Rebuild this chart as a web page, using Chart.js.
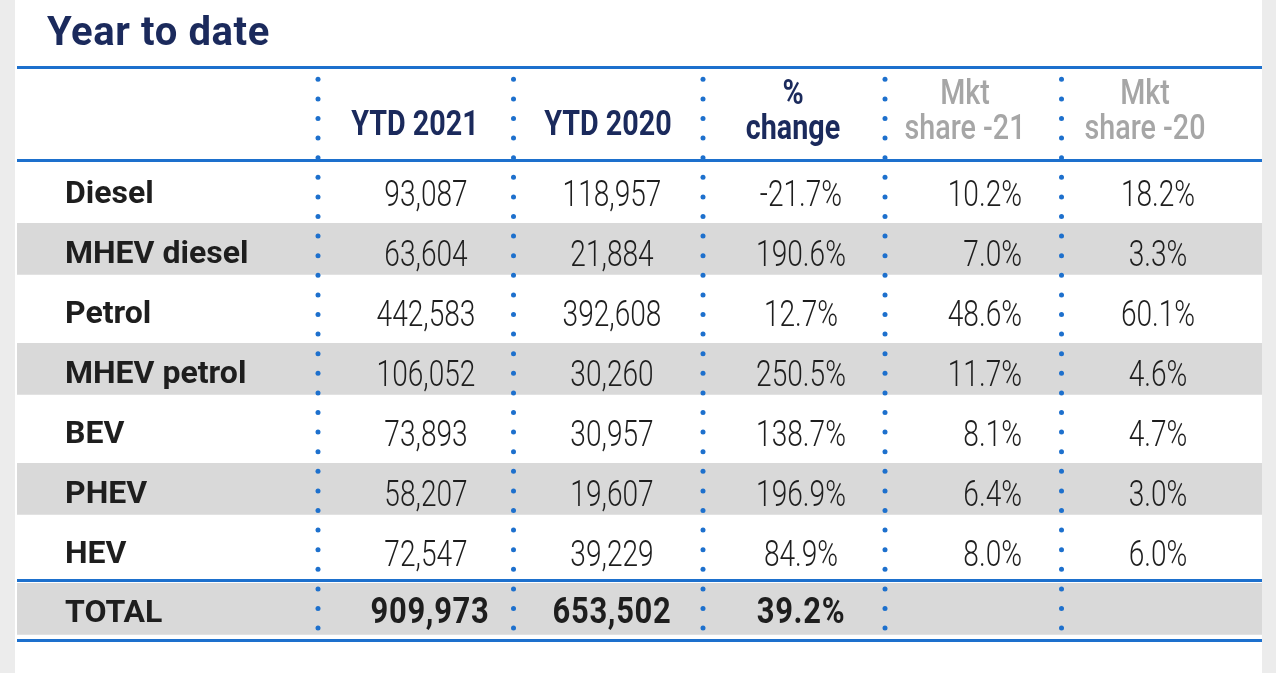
<!DOCTYPE html>
<html>
<head>
<meta charset="utf-8">
<script src="https://cdn.jsdelivr.net/npm/chart.js@4/dist/chart.umd.min.js"></script>
<style>
  html, body { margin: 0; padding: 0; background: #ececec; overflow: hidden; }
  canvas { display: block; }
</style>
</head>
<body>
<canvas id="c" width="1276" height="673" style="width:1276px;height:673px"></canvas>
<script>
// ---------------- DATA ----------------
const title = 'Year to date';
const headers = [['YTD 2021'], ['YTD 2020'], ['%', 'change'], ['Mkt', 'share -21'], ['Mkt', 'share -20']];
const categories = ['Diesel', 'MHEV diesel', 'Petrol', 'MHEV petrol', 'BEV', 'PHEV', 'HEV'];
const ytd2021 = [93087, 63604, 442583, 106052, 73893, 58207, 72547];
const ytd2020 = [118957, 21884, 392608, 30260, 30957, 19607, 39229];
const pctChange = [-21.7, 190.6, 12.7, 250.5, 138.7, 196.9, 84.9];
const share21 = [10.2, 7.0, 48.6, 11.7, 8.1, 6.4, 8.0];
const share20 = [18.2, 3.3, 60.1, 4.6, 4.7, 3.0, 6.0];
const totalLabel = 'TOTAL';
const total2021 = 909973;
const total2020 = 653502;
const totalChange = 39.2;

// ---------------- LAYOUT (table geometry, in table units) ----------------
const WIDTH_UNITS = 1245;          // table width
const HEADER_ROWS = 1.55;          // header height in body-row units
const COL_EDGES = [301, 496.5, 686, 868, 1044.5];
const LABEL_X = 48;
const VALUE_X = [409, 595, 784, 1005, 1141];
const VALUE_ALIGN = ['center', 'center', 'center', 'right', 'center'];
const HEADER_X = [398, 591, 776, 948, 1128];
const NAVY = '#1b2a5c', INK = '#1e1e1e', HEAD_GREY = '#a6a6a6', BLUE = '#1d70cd', BAND = '#d9d9d9';
const FONT = 'Roboto';

// ---------------- FONT HELPERS ----------------
const probe = document.createElement('canvas').getContext('2d');
probe.font = `normal 40px ${FONT}`;
const wNormal = probe.measureText('0123456789abc').width;
probe.font = `300 40px ${FONT}`;
const hasLight = probe.measureText('0123456789abc').width !== wNormal;
const VALUE_WEIGHT = hasLight ? '300' : 'normal';

function txt(ctx, s, x, y, font, color, align, sx, spacing) {
  ctx.save();
  ctx.translate(x, y);
  ctx.scale(sx || 1, 1);
  ctx.font = font;
  ctx.fillStyle = color;
  ctx.textAlign = align || 'left';
  ctx.textBaseline = 'alphabetic';
  if (spacing) ctx.letterSpacing = spacing + 'px';
  ctx.fillText(s, 0, 0);
  ctx.restore();
}
const fmtInt = v => v.toLocaleString('en-US');
const fmtPct = v => v.toFixed(1) + '%';

// ---------------- TABLE PLUGIN ----------------
const tablePlugin = {
  id: 'tableCells',
  beforeDraw(chart) {
    const { ctx, chartArea: a } = chart;
    ctx.save();
    ctx.fillStyle = '#ffffff';
    ctx.fillRect(a.left - 2, 0, a.right - a.left + 2, chart.height);
    ctx.restore();
  },
  afterDatasetsDraw(chart) {
    const { ctx, chartArea: a, scales: { x, y } } = chart;

    // dotted column separators
    ctx.save();
    ctx.fillStyle = BLUE;
    COL_EDGES.forEach(e => {
      const px = x.getPixelForValue(e);
      for (let py = a.top + 12.3; py < a.bottom - 8; py += 19.6) {
        ctx.beginPath();
        ctx.arc(px, py, 2.5, 0, Math.PI * 2);
        ctx.fill();
      }
    });
    ctx.restore();

    // title
    txt(ctx, title, a.left + 30, a.top - 22, `bold 40px ${FONT}`, NAVY, 'left', 1, 0.6);

    // header
    const hc = y.getPixelForValue(-HEADER_ROWS / 2);
    const hFont = `bold 35px ${FONT}`;
    headers.forEach((lines, c) => {
      const px = x.getPixelForValue(HEADER_X[c]);
      const color = c >= 3 ? HEAD_GREY : NAVY;
      const font = c >= 3 ? `500 35px ${FONT}` : hFont;
      if (lines.length === 1) {
        txt(ctx, lines[0], px, hc + 21.5, font, color, 'center', 0.82);
      } else {
        txt(ctx, lines[0], px, hc - 9.5, font, color, 'center', 0.82);
        txt(ctx, lines[1], px, hc + 25.5, font, color, 'center', 0.82);
      }
    });

    // body rows
    const vFont = `${VALUE_WEIGHT} 36px ${FONT}`;
    const cols = [ytd2021.map(fmtInt), ytd2020.map(fmtInt), pctChange.map(fmtPct), share21.map(fmtPct), share20.map(fmtPct)];
    categories.forEach((name, i) => {
      const rc = y.getPixelForValue(i + 0.5);
      txt(ctx, name, x.getPixelForValue(LABEL_X), rc + 12.5, `bold 32px ${FONT}`, INK, 'left');
      cols.forEach((col, c) => {
        txt(ctx, col[i], x.getPixelForValue(VALUE_X[c]), rc + 16, vFont, INK, VALUE_ALIGN[c], 0.78);
      });
    });

    // total row
    const tc = y.getPixelForValue(categories.length + 0.5);
    txt(ctx, totalLabel, x.getPixelForValue(LABEL_X), tc + 11.5, `bold 32px ${FONT}`, INK, 'left');
    const tFont = `bold 36px ${FONT}`;
    [fmtInt(total2021), fmtInt(total2020), fmtPct(totalChange)].forEach((s, c) => {
      txt(ctx, s, x.getPixelForValue(VALUE_X[c] + (c === 0 ? 4 : 0)), tc + 13, tFont, INK, VALUE_ALIGN[c], 0.86, 0.8);
    });
  }
};

// ---------------- CHART ----------------
const shadedRows = categories.map((_, i) => i).filter(i => i % 2 === 1).concat([categories.length]);

new Chart(document.getElementById('c'), {
  type: 'bar',
  data: {
    datasets: [{
      label: 'row shading',
      indexAxis: 'y',
      data: shadedRows.map(i => ({ y: i + 0.48, x: [0, WIDTH_UNITS] })),
      backgroundColor: BAND,
      borderWidth: 0,
      barThickness: 51
    }]
  },
  options: {
    indexAxis: 'y',
    responsive: false,
    animation: false,
    devicePixelRatio: 1,
    layout: { padding: { left: 17, right: 14, top: 67, bottom: 33 } },
    plugins: { legend: { display: false }, tooltip: { enabled: false }, title: { display: false } },
    scales: {
      x: { type: 'linear', min: 0, max: WIDTH_UNITS, display: false, offset: false },
      y: {
        type: 'linear', reverse: true, offset: false,
        min: -HEADER_ROWS, max: categories.length + 1,
        afterBuildTicks: s => { s.ticks = [-HEADER_ROWS, 0, categories.length, categories.length + 1].map(v => ({ value: v })); },
        ticks: { display: false },
        border: { display: false },
        grid: { color: BLUE, lineWidth: 3, drawTicks: false, offset: false }
      }
    }
  },
  plugins: [tablePlugin]
});
</script>
</body>
</html>
